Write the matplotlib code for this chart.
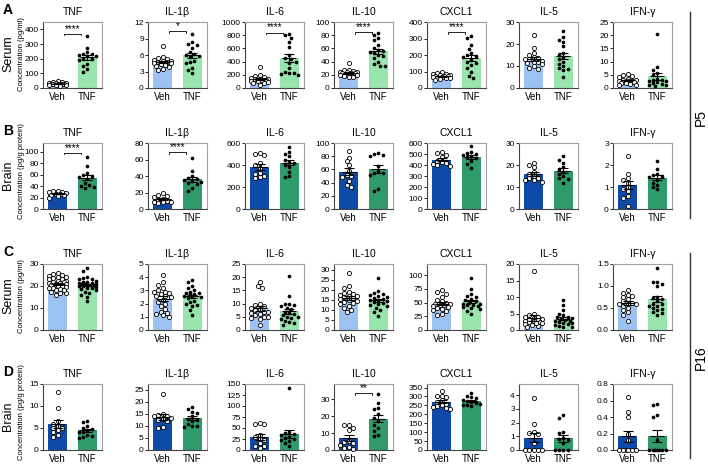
import numpy as np
import matplotlib
matplotlib.use("Agg")
import matplotlib.pyplot as plt
from matplotlib.lines import Line2D

plt.rcParams["font.family"] = ["Liberation Sans Narrow", "Liberation Sans", "DejaVu Sans"]

cytokines = ["TNF", "IL-1β", "IL-6", "IL-10", "CXCL1", "IL-5", "IFN-γ"]
groups = ["Veh", "TNF"]

# values, one list per cytokine (same order as `cytokines`)
serum_p5_veh = [
    [45, 40, 38, 35, 33, 32, 30, 30, 28, 27, 25, 24, 22, 20, 18, 15],
    [7.7, 5.6, 5.4, 5.2, 5.1, 5.0, 4.9, 4.8, 4.7, 4.6, 4.5, 4.4, 4.2, 4.0, 3.8, 3.5, 3.3],
    [320, 200, 180, 160, 150, 140, 135, 130, 125, 120, 110, 100, 90, 80, 70, 50],
    [38, 28, 27, 26, 25, 25, 24, 23, 22, 22, 21, 20, 19, 18, 17, 16],
    [95, 90, 85, 82, 80, 78, 75, 72, 70, 68, 65, 62, 60, 58, 55, 50],
    [24, 18, 16, 15, 14, 13.5, 13, 13, 12.5, 12, 12, 11.5, 11, 10, 9, 8.5],
    [5.2, 4.8, 4.5, 4.0, 3.5, 3.2, 3.0, 2.8, 2.6, 2.5, 2.3, 2.0, 1.8, 1.5, 1.2, 1.0],
]
serum_p5_tnf = [
    [355, 275, 245, 235, 230, 225, 220, 215, 200, 195, 190, 165, 150, 130, 110],
    [9.8, 8.4, 8.0, 7.8, 7.2, 6.5, 6.2, 6.0, 5.9, 5.6, 5.0, 4.8, 4.5, 3.7, 3.2, 2.8],
    [820, 800, 760, 700, 620, 500, 450, 440, 400, 380, 300, 250, 230, 220, 210, 200],
    [83, 80, 76, 72, 65, 60, 58, 56, 55, 53, 50, 48, 45, 40, 36, 34, 33],
    [315, 305, 260, 235, 210, 200, 195, 185, 170, 160, 150, 140, 120, 100, 75, 60],
    [26, 23, 22, 21, 19, 16, 15, 14, 13, 12, 11, 10, 9, 8.5, 8, 5],
    [20.5, 8.0, 7.0, 5.5, 5.0, 3.5, 3.2, 3.0, 2.8, 2.5, 2.2, 2.0, 1.5, 1.2, 1.0, 0.8],
]
brain_p5_veh = [
    [32, 31, 30, 29, 28, 27, 26, 25, 24, 22, 20],
    [19, 17, 16, 14, 12, 11, 10, 9, 8, 8, 7],
    [510, 500, 490, 420, 400, 370, 330, 320, 300, 290, 280],
    [88, 78, 72, 66, 58, 52, 50, 48, 42, 36, 34],
    [520, 510, 490, 470, 440, 430, 420, 410, 400, 395],
    [21, 20, 19, 17, 16, 15, 14, 14, 13, 13, 12.5],
    [2.4, 1.6, 1.4, 1.3, 1.2, 1.0, 0.9, 0.8, 0.6, 0.5, 0.15],
]
brain_p5_tnf = [
    [90, 75, 62, 60, 58, 56, 52, 45, 42, 40, 38, 36],
    [62, 46, 40, 38, 36, 35, 34, 33, 32, 30, 26, 22],
    [560, 520, 500, 480, 450, 430, 420, 400, 380, 340, 300, 290],
    [85, 84, 82, 80, 65, 58, 55, 55, 52, 30, 28],
    [575, 520, 510, 500, 490, 480, 470, 460, 440, 410, 370],
    [24, 22.5, 21, 19, 18, 17, 16, 15, 14, 13.5, 12],
    [2.2, 1.8, 1.6, 1.55, 1.5, 1.45, 1.3, 1.2, 1.0, 0.9, 1.1],
]
serum_p16_veh = [
    [26, 25.5, 25, 24.5, 24, 24, 23.5, 23, 23, 22.5, 22.5, 22, 22, 21.5, 21.5,
     21, 21, 20.5, 20, 20, 19.5, 19, 19, 18.5, 18, 17.5, 17, 16, 18, 17],
    [4.2, 3.6, 3.4, 3.2, 3.0, 2.9, 2.8, 2.7, 2.6, 2.6, 2.5, 2.3, 2.1, 2.0, 1.8,
     1.6, 1.4, 1.3, 1.2, 1.0, 1.1, 2.9],
    [18, 16.5, 16, 10, 9.5, 9, 8.5, 8, 7.5, 7, 7, 6.5, 6, 5.5, 5, 5, 4.5, 4, 2],
    [28.5, 22, 21, 19, 18.5, 18, 17.5, 17, 16.5, 16, 15.5, 15, 14.5, 14, 13.5,
     13, 12, 11, 10, 9, 17],
    [72, 70, 66, 60, 55, 52, 50, 48, 47, 46, 45, 44, 42, 40, 38, 36, 34, 30, 28],
    [18, 5, 4.5, 4, 3.8, 3.5, 3.3, 3.0, 2.8, 2.6, 2.5, 2.3, 2.0, 1.8, 1.5, 1.2, 1.0, 2.2, 3.2],
    [0.9, 0.85, 0.8, 0.78, 0.75, 0.7, 0.65, 0.62, 0.6, 0.58, 0.55, 0.5, 0.45, 0.4,
     0.35, 0.2, 0.6],
]
serum_p16_tnf = [
    [28, 27, 24, 23.5, 23, 23, 22.5, 22, 22, 21.5, 21.5, 21, 21, 21, 20.5, 20.5,
     20, 20, 19.5, 19, 19, 18.5, 18, 17.5, 17, 16, 15, 13],
    [3.8, 3.6, 3.3, 3.2, 3.0, 2.9, 2.8, 2.8, 2.7, 2.6, 2.5, 2.5, 2.4, 2.2, 2.1,
     2.0, 1.9, 1.8, 1.5, 1.1, 2.7],
    [20.5, 13, 10, 10, 9.5, 9, 8.5, 8, 7, 6.5, 6, 5.5, 5, 5, 4.5, 4, 3.5, 3, 2.5, 2],
    [26, 19.5, 18.5, 18, 17.5, 17, 16.5, 16, 15.5, 15, 15, 14.5, 14, 13.5, 13,
     12.5, 12, 11, 10, 9, 7],
    [95, 75, 65, 62, 60, 57, 55, 52, 50, 48, 47, 46, 45, 44, 42, 40, 38, 35, 30],
    [9.2, 7.5, 6, 5, 4.5, 4, 3.8, 3.5, 3.2, 3.0, 2.8, 2.5, 2.2, 2.0, 1.8, 1.5,
     1.2, 1.0, 0.8, 2.8],
    [1.4, 1.1, 1.1, 1.05, 1.0, 0.75, 0.72, 0.7, 0.65, 0.6, 0.55, 0.5, 0.48, 0.45,
     0.4, 0.38, 0.35, 0.55, 0.6],
]
brain_p16_veh = [
    [13.2, 9.5, 6.5, 6.0, 5.5, 5.0, 4.5, 4.0, 3.5, 3.0, 5.0],
    [23.5, 15, 14.5, 14, 14, 13.5, 13, 12.5, 12, 9.5, 9],
    [62, 60, 60, 35, 30, 25, 22, 15, 10, 5, 8],
    [15, 15, 13, 12, 5.5, 4.5, 4, 3, 2, 1, 0.5],
    [330, 305, 300, 295, 280, 270, 260, 250, 245, 240, 235, 230],
    [3.8, 1.9, 1.3, 1.25, 1.2, 0.5, 0, 0, 0, 0, 0],
    [0.64, 0.46, 0.40, 0.20, 0.12, 0, 0, 0, 0, 0, 0],
]
brain_p16_tnf = [
    [6.5, 6.3, 5.5, 5.0, 4.8, 4.5, 4.2, 4.0, 3.5, 3.2, 3.0, 2.8],
    [18, 17, 16, 15.5, 14, 13, 12.5, 12, 11, 10, 10, 9.5],
    [140, 40, 38, 37, 35, 30, 28, 25, 22, 20, 15, 10],
    [33, 28, 25, 24, 21, 19, 17, 15, 13, 11, 9, 8],
    [320, 300, 295, 290, 280, 275, 270, 265, 260, 255, 250, 245],
    [2.55, 2.3, 1.3, 1.25, 0.9, 0.8, 0.75, 0.5, 0, 0, 0, 0],
    [0.56, 0.54, 0.42, 0.40, 0.12, 0, 0, 0, 0, 0, 0, 0],
]

# y-axis top, tick step and last tick per panel
ytops = [
    [450, 12, 1000, 100, 400, 30, 25],
    [115, 80, 600, 100, 600, 30, 3],
    [30, 5, 25, 33, 120, 20, 1.5],
    [15, 27.5, 150, 39, 370, 4.8, 0.8],
]
ysteps = [
    [100, 3, 200, 20, 100, 10, 5],
    [20, 20, 200, 20, 100, 10, 1],
    [10, 1, 5, 5, 25, 5, 0.5],
    [5, 5, 25, 10, 50, 1, 0.2],
]
ymaxtick = [
    [400, 12, 1000, 100, 400, 30, 25],
    [100, 80, 600, 100, 600, 30, 3],
    [30, 5, 25, 30, 100, 20, 1.5],
    [15, 25, 150, 30, 350, 4, 0.8],
]

# (row, col, bracket height, label)
sig = [(0, 0, 370, "****"), (0, 1, 10.3, "*"), (0, 2, 840, "****"),
       (0, 3, 85, "****"), (0, 4, 340, "****"), (1, 0, 98, "****"),
       (1, 1, 69, "****"), (3, 3, 33.5, "**")]

rows = [
    ("A", "Serum", "Concentration (pg/ml)", serum_p5_veh, serum_p5_tnf, ["#9cc2f4", "#98e5ad"]),
    ("B", "Brain", "Concentration (pg/g protein)", brain_p5_veh, brain_p5_tnf, ["#0f4aa8", "#2f9a6a"]),
    ("C", "Serum", "Concentration (pg/ml)", serum_p16_veh, serum_p16_tnf, ["#9cc2f4", "#98e5ad"]),
    ("D", "Brain", "Concentration (pg/g protein)", brain_p16_veh, brain_p16_tnf, ["#0f4aa8", "#2f9a6a"]),
]

W, H = 708, 466
col_left = [43, 148, 245, 334, 427, 519, 613]
row_top = [22, 143, 264, 384]
AX_W, AX_H = 59, 66
XLIM = (-0.5, 1.5)


def swarm_offsets(vals, top, diam=4.3, spread=0.3):
    dx = diam / AX_W * (XLIM[1] - XLIM[0])
    dy = diam / AX_H * top
    n = int(spread / (dx / 2))
    cands = sorted([k * dx / 2 for k in range(-n, n + 1)], key=lambda c: (abs(c), c))
    placed = []
    out = np.zeros(len(vals))
    for idx in np.argsort(vals)[::-1]:
        v = vals[idx]
        best, best_d = 0.0, -1
        for c in cands:
            d = min([np.hypot((c - px) / dx, (v - py) / dy) for px, py in placed] or [9])
            if d >= 1:
                best = c
                break
            if d > best_d:
                best, best_d = c, d
        placed.append((best, v))
        out[idx] = best
    return out


fig = plt.figure(figsize=(W / 100, H / 100), dpi=100)

for r, (letter, tissue, ylab, veh_data, tnf_data, colors) in enumerate(rows):
    for c, name in enumerate(cytokines):
        ax = fig.add_axes([col_left[c] / W, 1 - (row_top[r] + AX_H) / H, AX_W / W, AX_H / H])
        top = ytops[r][c]
        for i, vals in enumerate([veh_data[c], tnf_data[c]]):
            vals = np.array(vals, dtype=float)
            m = vals.mean()
            se = vals.std(ddof=1) / np.sqrt(len(vals))
            ax.bar(i, m, width=0.66, color=colors[i], zorder=1)
            offs = swarm_offsets(vals, top)
            if i == 0:
                ax.scatter(i + offs, vals, s=9, facecolor="white", edgecolor="black",
                           linewidth=0.6, zorder=3, clip_on=False)
            else:
                ax.scatter(i + offs, vals, s=7, color="black", linewidth=0,
                           zorder=3, clip_on=False)
            ax.errorbar(i, m, yerr=se, color="black", lw=0.8, capsize=3.5,
                        capthick=0.8, zorder=4)
            ax.hlines(m, i - 0.24, i + 0.24, color="black", lw=0.8, zorder=4)

        ax.set_xlim(*XLIM)
        ax.set_ylim(0, top)
        step = ysteps[r][c]
        ticks = np.arange(0, ymaxtick[r][c] + step / 2, step)
        ax.set_yticks(ticks)
        if step < 1:
            ax.set_yticklabels([f"{t:.1f}" for t in ticks])
        else:
            ax.set_yticklabels([f"{t:g}" for t in ticks])
        ax.set_xticks([0, 1])
        ax.set_xticklabels(groups)
        ax.tick_params(axis="x", length=0, labelsize=7, pad=3)
        ax.tick_params(axis="y", length=2, width=0.6, labelsize=6, pad=1)
        for s in ["left", "bottom"]:
            ax.spines[s].set_color("#444444")
            ax.spines[s].set_linewidth(0.8)
        for s in ["top", "right"]:
            ax.spines[s].set_color("#a0a0a0")
            ax.spines[s].set_linewidth(0.8)
        ax.set_title(name, fontsize=7.5, pad=5)
        if c == 0:
            ax.set_ylabel(ylab, fontsize=5.5)
            ax.yaxis.set_label_coords(-0.3, 0.58 if tissue == "Brain" else 0.52)

    fig.text(3 / W, 1 - (row_top[r] - 12) / H, letter, fontsize=10, fontweight="bold",
             ha="left", va="center")
    fig.text(8 / W, 1 - (row_top[r] + 32) / H, tissue, fontsize=9, rotation=90,
             ha="center", va="center")

for r, c, y, label in sig:
    ax = fig.axes[r * 7 + c]
    h = ytops[r][c] * 0.025
    ax.plot([0.22, 0.22, 0.78, 0.78], [y - h, y, y, y - h], color="black", lw=0.6, zorder=5)
    ax.text(0.5, y, label, ha="center", va="bottom", fontsize=7, zorder=5)

# age brackets on the right
fig.add_artist(Line2D([690 / W, 690 / W], [1 - 12 / H, 1 - 218 / H], color="#333333", lw=1))
fig.add_artist(Line2D([690 / W, 690 / W], [1 - 253 / H, 1 - 458 / H], color="#333333", lw=1))
fig.text(701 / W, 1 - 117 / H, "P5", rotation=90, fontsize=10, ha="center", va="center")
fig.text(701 / W, 1 - 358 / H, "P16", rotation=90, fontsize=10, ha="center", va="center")

fig.savefig("out.png", dpi=100)
